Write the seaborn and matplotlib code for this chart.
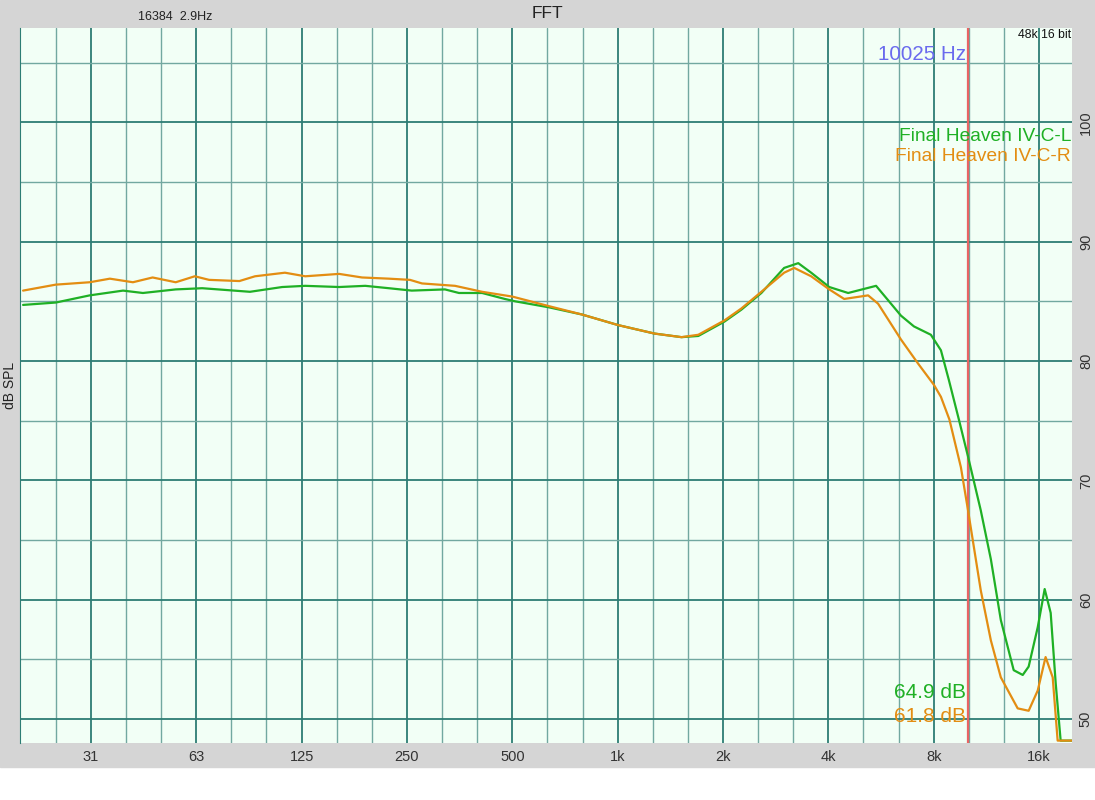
import pandas as pd
import matplotlib.pyplot as plt
import matplotlib.patches as patches
import seaborn as sns

# Final Heaven IV-C-L (green)
left_hz = [20, 24.8, 31, 38.6, 44, 54.6, 65, 89, 110, 128, 160, 190, 222, 258, 321, 352,
           410, 476, 510, 636, 790, 1006, 1275, 1522, 1700, 2018, 2256, 2574, 2990, 3281,
           3572, 4024, 4556, 5475, 6450, 7024, 7852, 8388, 8840, 9440, 10025, 10900, 11650,
           12440, 13540, 14370, 14940, 15860, 16600, 17270, 17850, 18440, 20000]
left_db = [84.7, 84.9, 85.5, 85.9, 85.7, 86.0, 86.1, 85.8, 86.2, 86.3, 86.2, 86.3, 86.1, 85.9,
           86.0, 85.7, 85.7, 85.2, 85.0, 84.5, 83.9, 83.0, 82.3, 82.0, 82.1, 83.3, 84.3, 85.7,
           87.8, 88.2, 87.4, 86.2, 85.7, 86.3, 83.8, 82.9, 82.2, 80.9, 78.4, 75.1, 72.0, 67.5,
           63.4, 58.3, 54.1, 53.7, 54.4, 57.7, 60.9, 58.9, 53.0, 48.2, 48.2]

# Final Heaven IV-C-R (orange)
right_hz = [20, 24.8, 31, 35.4, 41.2, 46.9, 54.6, 61.9, 68, 83, 92, 112, 128, 160, 186, 222,
            255, 276, 343, 410, 500, 636, 790, 1006, 1275, 1522, 1700, 2018, 2256, 2574,
            2990, 3196, 3572, 4024, 4438, 5196, 5549, 6450, 7212, 8012, 8388, 8870, 9566,
            10025, 10900, 11650, 12440, 13900, 14940, 15860, 16700, 17500, 18080, 20000]
right_db = [85.9, 86.4, 86.6, 86.9, 86.6, 87.0, 86.6, 87.1, 86.8, 86.7, 87.1, 87.4, 87.1, 87.3,
            87.0, 86.9, 86.8, 86.5, 86.3, 85.8, 85.4, 84.6, 83.9, 83.0, 82.3, 82.0, 82.2, 83.4,
            84.4, 85.8, 87.4, 87.8, 87.1, 86.0, 85.2, 85.5, 84.8, 81.8, 79.8, 78.0, 77.0, 75.1,
            71.1, 67.5, 60.8, 56.6, 53.5, 50.9, 50.7, 52.4, 55.2, 53.5, 48.2, 48.2]

series_names = ["Final Heaven IV-C-L", "Final Heaven IV-C-R"]
series_colors = ["#1fb025", "#e38d12"]
cursor_hz = 10025
cursor_db = ["64.9 dB", "61.8 dB"]

tick_hz = [31.25, 62.5, 125, 250, 500, 1000, 2000, 4000, 8000, 16000]
tick_labels = ["31", "63", "125", "250", "500", "1k", "2k", "4k", "8k", "16k"]
db_ticks = [50, 60, 70, 80, 90, 100]

df = pd.concat([
    pd.DataFrame({"hz": left_hz, "db": left_db, "ch": series_names[0]}),
    pd.DataFrame({"hz": right_hz, "db": right_db, "ch": series_names[1]}),
], ignore_index=True)

sns.set_style("white")
plt.rcParams["font.family"] = ["Liberation Sans", "DejaVu Sans"]

grid_dark = "#2d7d74"
grid_light = "#72a8a0"

f = plt.figure(figsize=(10.95, 8), dpi=100, facecolor="white")
f.patches.append(patches.Rectangle((0, 0.04125), 1, 0.95875, transform=f.transFigure,
                                   color="#d5d5d5", zorder=-10))
ax = f.add_axes([20 / 1095, 57 / 800, 1052 / 1095, 715 / 800])
ax.set_facecolor("#f2fff6")
ax.set_xscale("log")
ax.set_xlim(19.6, 19870)
ax.set_ylim(48, 107.9)

# third-octave vertical grid, octaves darker
for k in range(-2, 28):
    fx = 31.25 * 2 ** (k / 3)
    if 19.7 < fx < 19870:
        if k % 3 == 0:
            ax.axvline(fx, color=grid_dark, lw=1.3, zorder=1)
        else:
            ax.axvline(fx, color=grid_light, lw=1.0, zorder=1)
for d in range(50, 107, 5):
    if d % 10 == 0:
        ax.axhline(d, color=grid_dark, lw=1.3, zorder=1)
    else:
        ax.axhline(d, color=grid_light, lw=1.0, zorder=1)

ax.axvline(cursor_hz, color="#e86464", lw=1.6, zorder=2)

sns.lineplot(data=df, x="hz", y="db", hue="ch", palette=series_colors, sort=False,
             estimator=None, lw=1.6, legend=False, ax=ax, zorder=3)

ax.set_xticks(tick_hz)
ax.set_xticklabels(tick_labels, fontsize=10.5, color="#333333")
ax.xaxis.set_minor_locator(plt.NullLocator())
ax.yaxis.tick_right()
ax.set_yticks(db_ticks)
ax.set_yticklabels([str(d) for d in db_ticks], rotation=90, va="center", fontsize=10.5,
                   color="#333333")
ax.tick_params(length=0, pad=5)
ax.set_xlabel("")
ax.set_ylabel("")
for s in ax.spines.values():
    s.set_visible(False)
ax.spines["left"].set_visible(True)
ax.spines["left"].set_color(grid_dark)

# texts
f.text(0.5, 1 - 14 / 800, "FFT", ha="center", va="center", fontsize=12.5, color="#222222")
f.text(138 / 1095, 1 - 17 / 800, "16384  2.9Hz", ha="left", va="center", fontsize=9,
       color="#222222")
f.text(10 / 1095, 1 - 385 / 800, "dB SPL", rotation=90, ha="center", va="center",
       fontsize=10, color="#222222")
ax.text(0.999, 1 - 7 / 715, "48k 16 bit", transform=ax.transAxes, ha="right", va="center",
        fontsize=8.8, color="#111111", zorder=5)
ax.text(cursor_hz * 0.99, 105.7, "10025 Hz", ha="right", va="center", fontsize=14.8,
        color="#6a6aee", zorder=5)
ax.text(0.999, 1 - 109 / 715, series_names[0], transform=ax.transAxes, ha="right",
        va="center", fontsize=13.8, color=series_colors[0], zorder=5)
ax.text(0.999, 1 - 129 / 715, series_names[1], transform=ax.transAxes, ha="right",
        va="center", fontsize=13.8, color=series_colors[1], zorder=5)
ax.text(cursor_hz * 0.99, 52.2, cursor_db[0], ha="right", va="center", fontsize=15,
        color=series_colors[0], zorder=5)
ax.text(cursor_hz * 0.99, 50.2, cursor_db[1], ha="right", va="center", fontsize=15,
        color=series_colors[1], zorder=5)

plt.savefig("out.png", dpi=100)
